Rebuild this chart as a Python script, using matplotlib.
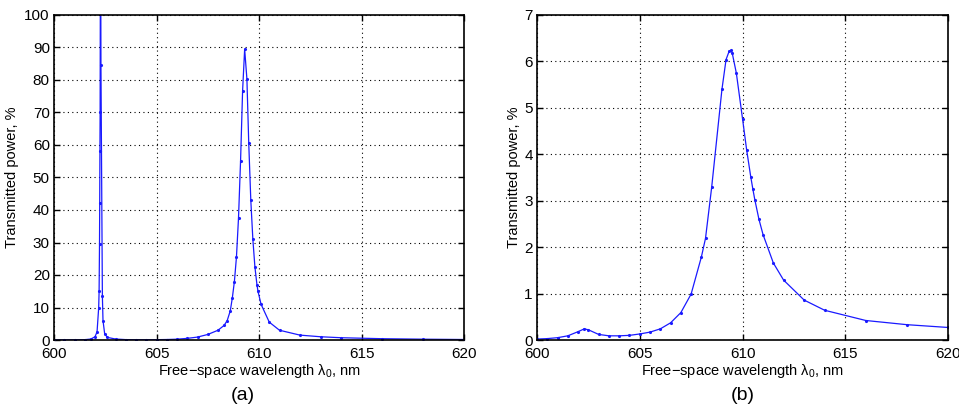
import matplotlib
matplotlib.use("Agg")
import matplotlib.pyplot as plt

plt.rcParams['font.family'] = ['Liberation Sans', 'DejaVu Sans']
plt.rcParams['mathtext.fontset'] = 'custom'
plt.rcParams['mathtext.rm'] = 'Liberation Sans'
plt.rcParams['mathtext.it'] = 'Liberation Sans'

# panel (a): transmitted power, %
wl_a = [600.0, 600.5, 601.0, 601.5, 601.8, 602.0, 602.1, 602.18, 602.2, 602.22,
        602.23, 602.24, 602.25, 602.27, 602.29, 602.36, 602.39, 602.47, 602.6,
        603.0, 603.5, 604.0, 604.5, 605.0, 605.5, 606.0, 606.5, 607.0, 607.5,
        608.0, 608.3, 608.45, 608.6, 608.7, 608.8, 608.9, 609.0, 609.1, 609.2,
        609.3, 609.41, 609.5, 609.6, 609.7, 609.8, 609.9, 609.95, 610.1, 610.5,
        611.0, 612.0, 613.0, 614.0, 616.0, 618.0, 620.0]
tp_a = [0.02, 0.03, 0.05, 0.1, 0.3, 1.0, 2.5, 10.0, 15.0, 29.5,
        42.0, 58.0, 70.0, 140.0, 84.5, 13.5, 6.0, 2.0, 0.8,
        0.3, 0.12, 0.08, 0.08, 0.1, 0.15, 0.25, 0.5, 0.9, 1.7,
        3.0, 4.5, 6.0, 9.0, 13.0, 18.0, 25.5, 37.5, 55.0, 76.7,
        89.5, 80.3, 60.5, 43.0, 31.0, 22.5, 17.0, 15.0, 11.0, 5.5,
        3.0, 1.5, 1.0, 0.7, 0.4, 0.25, 0.15]

# panel (b): transmitted power, %
wl_b = [600.0, 600.5, 601.0, 601.5, 602.0, 602.3, 602.5, 603.0, 603.5, 604.0,
        604.5, 605.0, 605.5, 606.0, 606.5, 607.0, 607.5, 608.0, 608.2, 608.5,
        609.0, 609.2, 609.35, 609.45, 609.5, 609.7, 610.0, 610.2, 610.4, 610.5,
        610.6, 610.8, 611.0, 611.5, 612.0, 613.0, 614.0, 616.0, 618.0, 620.0]
tp_b = [0.02, 0.03, 0.05, 0.09, 0.18, 0.24, 0.22, 0.12, 0.09, 0.09,
        0.10, 0.13, 0.17, 0.24, 0.37, 0.59, 0.99, 1.79, 2.19, 3.29,
        5.40, 6.04, 6.22, 6.24, 6.18, 5.75, 4.77, 4.10, 3.52, 3.26,
        3.02, 2.60, 2.27, 1.66, 1.29, 0.86, 0.64, 0.42, 0.33, 0.27]

fig = plt.figure(figsize=(9.59, 4.09), dpi=100)
ax_a = fig.add_axes([54/959, 69/409, 410/959, 325/409])
ax_b = fig.add_axes([537/959, 69/409, 411/959, 325/409])


def style_axes(ax, ymax, ystep, ylab_x):
    ax.set_xlim(600, 620)
    ax.set_ylim(0, ymax)
    ax.set_xticks(range(600, 621, 5))
    ax.set_yticks(range(0, ymax + 1, ystep))
    ax.grid(True, color='black', linestyle=(0, (1, 3)), linewidth=0.8)
    ax.tick_params(direction='in', top=True, right=True, length=4, width=1,
                   labelsize=11, pad=3)
    ax.tick_params(axis='x', pad=5)
    for s in ax.spines.values():
        s.set_linewidth(1.2)
    # MATLAB-style label sits right under the tick labels
    ax.set_xlabel(r'Free$-$space wavelength $\lambda_0$, nm', fontsize=10.5)
    ax.xaxis.set_label_coords(0.5, -0.068)
    ax.set_ylabel('Transmitted power, %', fontsize=10.5)
    ax.yaxis.set_label_coords(ylab_x, 0.5)


ax_a.plot(wl_a, tp_a, color=(0.1, 0.1, 1.0), linewidth=0.9, marker='.', markersize=2.5)
style_axes(ax_a, 100, 10, -0.085)

ax_b.plot(wl_b, tp_b, color=(0.1, 0.1, 1.0), linewidth=0.9, marker='.', markersize=2.5)
style_axes(ax_b, 7, 1, -0.04)

fig.text(243/959, 1 - 396/409, '(a)', ha='center', va='center', fontsize=14)
fig.text(743/959, 1 - 396/409, '(b)', ha='center', va='center', fontsize=14)

fig.savefig('out.png', dpi=100)
